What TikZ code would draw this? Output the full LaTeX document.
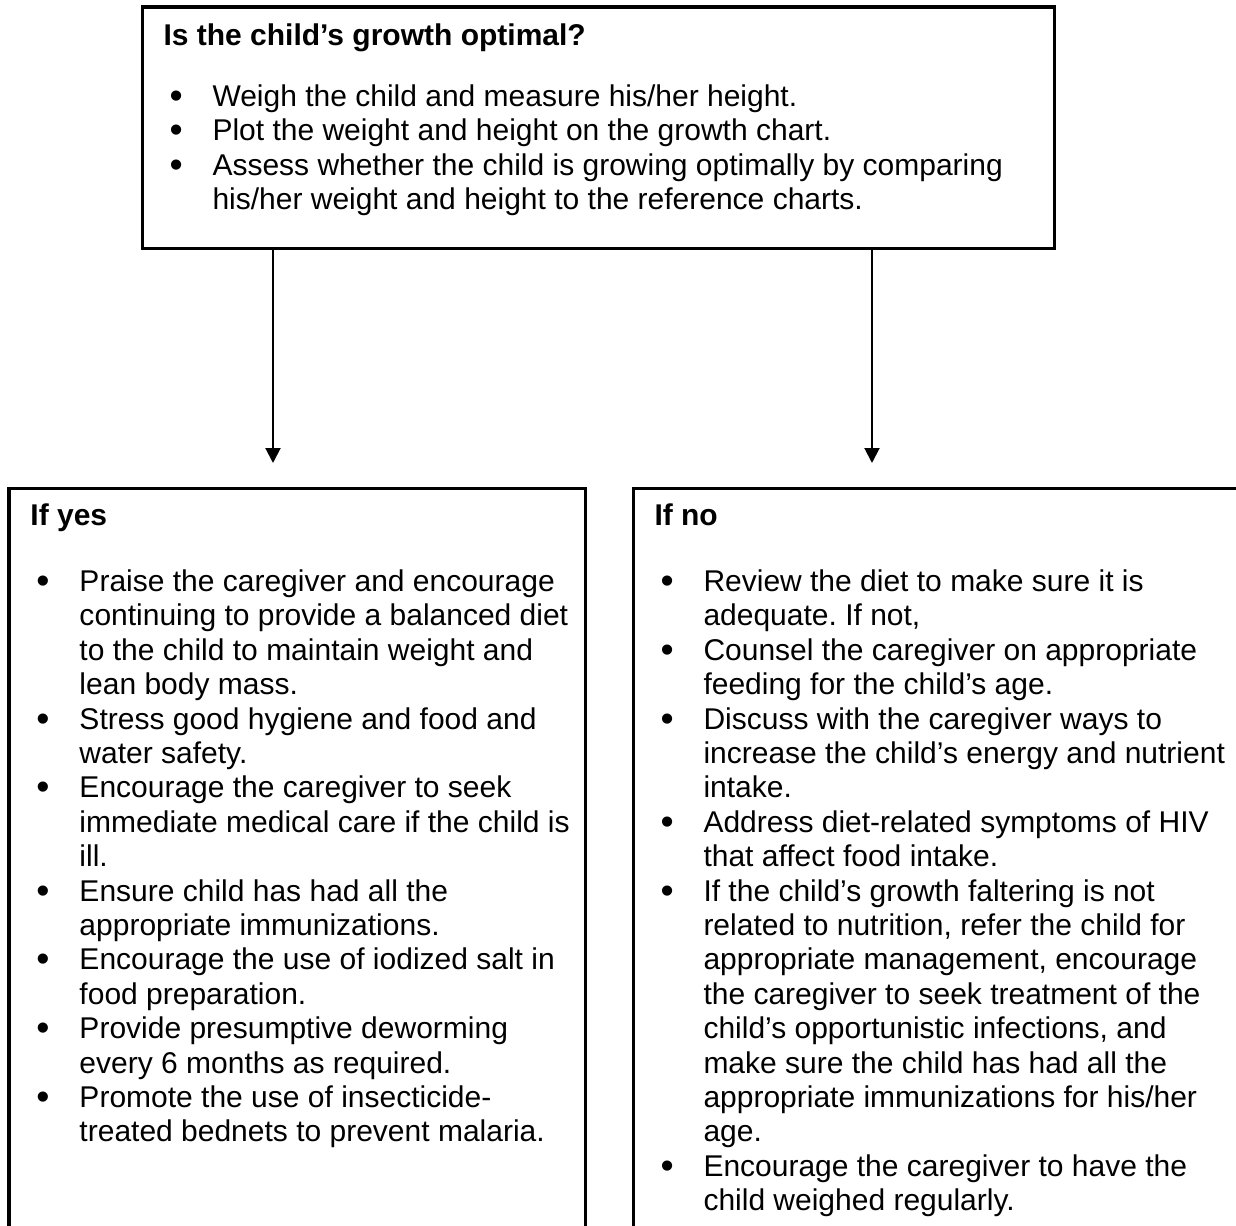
\documentclass[tikz,border=0pt]{standalone}
\usepackage{fontspec}
\setmainfont{Liberation Sans}
\usetikzlibrary{arrows.meta}
\frenchspacing

\tikzset{
  box/.style={draw,line width=1.2pt,anchor=north west,inner sep=0pt,outer sep=0pt},
  heading/.style={anchor=base west,inner sep=0pt,font=\fontsize{12}{13.76}\selectfont\bfseries},
  points/.style={anchor=north west,inner sep=0pt},
  link/.style={line width=0.8pt,-{Triangle[width=6pt,length=6pt]}}
}
\newcommand{\dotmark}{\raisebox{-0.8pt}{\fontsize{15}{15}\selectfont•}}
\newcommand{\pointlist}[1]{\begin{tabular}{@{}p{17.2pt}@{}l@{}}#1\end{tabular}}

\begin{document}
\begin{tikzpicture}[x=0.4pt,y=-0.4pt,font=\fontsize{12}{13.76}\selectfont]
\useasboundingbox (0,0) rectangle (1236,1226);
\clip (0,0) rectangle (1236,1226);
% the three boxes
\node[box,minimum width=364.8pt,minimum height=96.4pt] (growth) at (142,7) {};
\node[box,minimum width=230.4pt,minimum height=304pt] (yes) at (9,488) {};
\node[box,minimum width=246.8pt,minimum height=304pt] (no) at (633,488) {};
% arrow ends
\coordinate (yesEnd) at (273,463);
\coordinate (noEnd) at (872,463);
\draw[link] (growth.south -| yesEnd) -- (yesEnd);
\draw[link] (growth.south -| noEnd) -- (noEnd);
% top box
\node[heading] (growthTitle) at ([shift={(21,38)}]growth.north west) {Is the child’s growth optimal?};
\node[points] (growthList) at ([shift={(27,74.9)}]growth.north west) {\pointlist{
\dotmark & Weigh the child and measure his/her height.\\
\dotmark & Plot the weight and height on the growth chart.\\
\dotmark & Assess whether the child is growing optimally by comparing\\
  & his/her weight and height to the reference charts.\\}};
% if yes
\node[heading] (yesTitle) at ([shift={(21,37)}]yes.north west) {If yes};
\node[points] (yesList) at ([shift={(27,78.9)}]yes.north west) {\pointlist{
\dotmark & Praise the caregiver and encourage\\
  & continuing to provide a balanced diet\\
  & to the child to maintain weight and\\
  & lean body mass.\\
\dotmark & Stress good hygiene and food and\\
  & water safety.\\
\dotmark & Encourage the caregiver to seek\\
  & immediate medical care if the child is\\
  & ill.\\
\dotmark & Ensure child has had all the\\
  & appropriate immunizations.\\
\dotmark & Encourage the use of iodized salt in\\
  & food preparation.\\
\dotmark & Provide presumptive deworming\\
  & every 6 months as required.\\
\dotmark & Promote the use of insecticide-\\
  & treated bednets to prevent malaria.\\}};
% if no
\node[heading] (noTitle) at ([shift={(21,37)}]no.north west) {If no};
\node[points] (noList) at ([shift={(27,78.9)}]no.north west) {\pointlist{
\dotmark & Review the diet to make sure it is\\
  & adequate. If not,\\
\dotmark & Counsel the caregiver on appropriate\\
  & feeding for the child’s age.\\
\dotmark & Discuss with the caregiver ways to\\
  & increase the child’s energy and nutrient\\
  & intake.\\
\dotmark & Address diet-related symptoms of HIV\\
  & that affect food intake.\\
\dotmark & If the child’s growth faltering is not\\
  & related to nutrition, refer the child for\\
  & appropriate management, encourage\\
  & the caregiver to seek treatment of the\\
  & child’s opportunistic infections, and\\
  & make sure the child has had all the\\
  & appropriate immunizations for his/her\\
  & age.\\
\dotmark & Encourage the caregiver to have the\\
  & child weighed regularly.\\}};
\end{tikzpicture}
\end{document}
